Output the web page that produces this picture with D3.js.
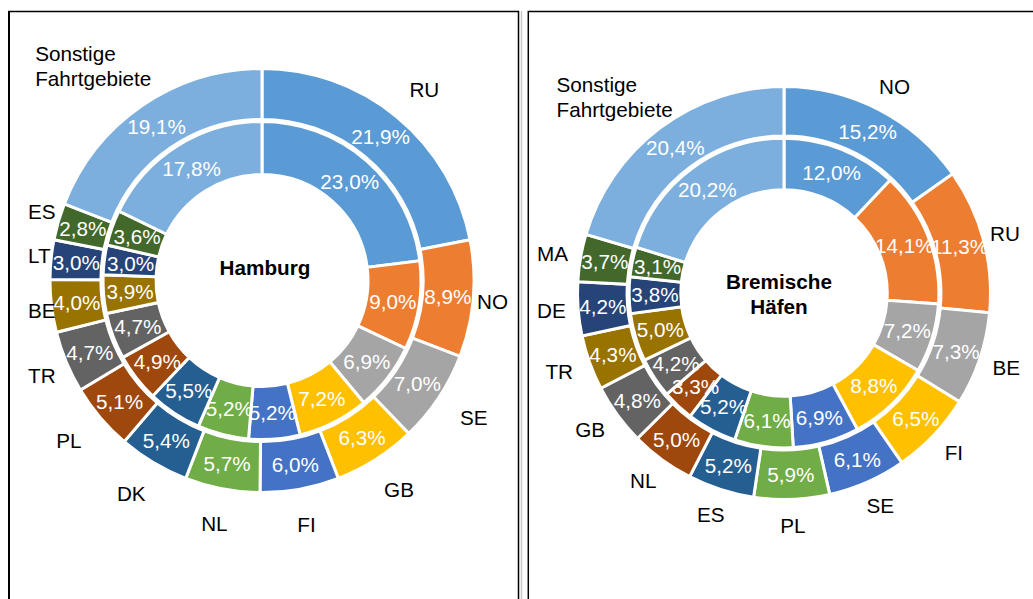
<!DOCTYPE html>
<html>
  <head>
    <script src="https://d3js.org/d3.v7.min.js"></script>
    <style>
      body { margin: 0; background: #fff; }
      text { font-family: "Liberation Sans", Arial, sans-serif; }
    </style>
  </head>
  <body>
    <svg width="1033" height="599"></svg>
    <script>

      // Hamburg: outer ring carries the country labels
      const hhCategories = ["RU", "NO", "SE", "GB", "FI", "NL", "DK", "PL", "TR", "BE", "LT", "ES", "Sonstige\nFahrtgebiete"];
      const hhOuter = [21.9, 8.9, 7.0, 6.3, 6.0, 5.7, 5.4, 5.1, 4.7, 4.0, 3.0, 2.8, 19.1];
      const hhInner = [23.0, 9.0, 6.9, 7.2, 5.2, 5.2, 5.5, 4.9, 4.7, 3.9, 3.0, 3.6, 17.8];

      // Bremische Häfen
      const hbCategories = ["NO", "RU", "BE", "FI", "SE", "PL", "ES", "NL", "GB", "TR", "DE", "MA", "Sonstige\nFahrtgebiete"];
      const hbOuter = [15.2, 11.3, 7.3, 6.5, 6.1, 5.9, 5.2, 5.0, 4.8, 4.3, 4.2, 3.7, 20.4];
      const hbInner = [12.0, 14.1, 7.2, 8.8, 6.9, 6.1, 5.2, 3.3, 4.2, 5.0, 3.8, 3.1, 20.2];

      const colors = ["#5B9BD5", "#ED7D31", "#A5A5A5", "#FFC000", "#4472C4", "#70AD47",
                      "#255E91", "#9E480E", "#636363", "#997300", "#264478", "#43682B", "#7CAFDD"];

      const svg = d3.select('svg');
      const fontSize = 20.7;
      const capH = 14.8;
      const lineH = 25;

      const fmt = v => v.toFixed(1).replace('.', ',') + '%';
      const pie = d3.pie().sort(null).value(d => d);

      // panel frames
      svg.append('path')
          .attr('d', 'M9,599V11.5H518.5V599')
          .attr('fill', 'none').attr('stroke', '#000').attr('stroke-width', 1.5);
      svg.append('line')
          .attr('x1', 9).attr('x2', 9).attr('y1', 11).attr('y2', 599)
          .attr('stroke', '#000').attr('stroke-width', 2);
      svg.append('line')
          .attr('x1', 521.5).attr('x2', 521.5).attr('y1', 11).attr('y2', 599)
          .attr('stroke', '#c8c8c8').attr('stroke-width', 1.5);
      svg.append('path')
          .attr('d', 'M528.3,599V11.5H1033')
          .attr('fill', 'none').attr('stroke', '#000').attr('stroke-width', 1.5);

      function donut(cx, cy, R, cats, outerVals, innerVals, labelPad, xMin, xMax, title, titleDx, titleDy) {
        const chart = svg.append('g')
            .attr('transform', `translate(${cx}, ${cy})`);

        const rings = [
          { vals: innerVals, r0: R * 0.5, r1: R * 0.75 },
          { vals: outerVals, r0: R * 0.76, r1: R }
        ];

        rings.forEach(ring => {
          ring.arc = d3.arc().innerRadius(ring.r0).outerRadius(ring.r1);
          ring.arcs = pie(ring.vals);
          chart.selectAll(null)
            .data(ring.arcs)
            .enter()
            .append('path')
            .attr('d', ring.arc)
            .attr('fill', (d, i) => colors[i])
            .attr('stroke', '#fff')
            .attr('stroke-width', 3);
        });

        // percentage labels
        rings.forEach(ring => {
          chart.selectAll(null)
            .data(ring.arcs)
            .enter()
            .append('text')
            .attr('transform', d => `translate(${ring.arc.centroid(d)})`)
            .attr('text-anchor', 'middle')
            .attr('dy', '0.36em')
            .attr('fill', '#fff')
            .style('font-size', fontSize + 'px')
            .text(d => fmt(d.data));
        });

        // category labels outside the outer ring
        const rLab = R - 1.5 + labelPad;
        rings[1].arcs.forEach((d, i) => {
          const lines = cats[i].split('\n');
          const t = chart.append('text')
              .attr('fill', '#000')
              .style('font-size', fontSize + 'px');
          lines.forEach((l, k) => t.append('tspan').attr('x', 0).attr('dy', k ? lineH : 0).text(l));
          const w = t.node().getBBox().width;
          const h = capH + (lines.length - 1) * lineH;
          const a = (d.startAngle + d.endAngle) / 2;
          let x = (rLab + w / 2) * Math.sin(a);
          let y = -rLab * Math.cos(a) - h / 2 * Math.cos(a);
          x = Math.max(xMin - cx + w / 2, Math.min(xMax - cx - w / 2, x));
          t.attr('transform', `translate(${x - w / 2}, ${y - h / 2 + capH})`);
        });

        // centre title
        const tt = chart.append('text')
            .attr('text-anchor', 'middle')
            .style('font-size', fontSize + 'px')
            .style('font-weight', 'bold');
        const top = titleDy - (capH + (title.length - 1) * lineH) / 2 + capH;
        title.forEach((l, k) => tt.append('tspan')
            .attr('x', titleDx)
            .attr('y', top + k * lineH)
            .text(l));
      }

      donut(262, 280.5, 212, hhCategories, hhOuter, hhInner, 30, 28, 508, ["Hamburg"], 3, -12.5);
      donut(784, 293, 206.5, hbCategories, hbOuter, hbInner, 20, 537, 1020, ["Bremische", "Häfen"], -5, 1.5);

    </script>
  </body>
</html>
